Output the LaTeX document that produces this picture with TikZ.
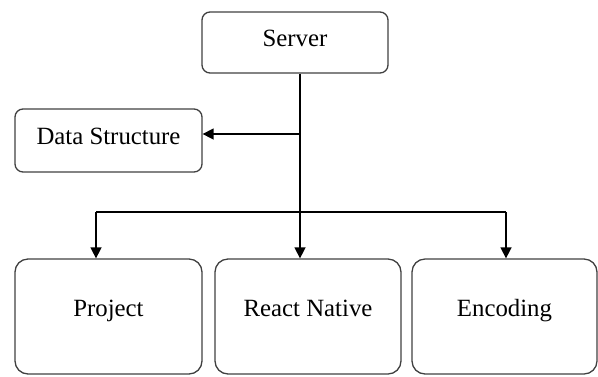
\documentclass[tikz,border=0pt]{standalone}
\usepackage{fontspec}
\setmainfont{Liberation Serif}
\usetikzlibrary{arrows.meta}
\begin{document}
\begin{tikzpicture}[x=0.5pt,y=-0.5pt,
  box/.style={draw=black!75, line width=0.65pt, rounded corners=4pt, inner sep=0pt,
    font=\fontsize{12.4}{14}\selectfont, text height=8.5pt, text depth=5pt},
  bigbox/.style={box, rounded corners=6.5pt, minimum height=57.5pt, text height=9pt, text depth=9pt},
  arr/.style={line width=0.75pt, -{Triangle[length=5.5pt,width=5.5pt]}},
  link/.style={line width=0.75pt}]
\useasboundingbox (0,0) rectangle (598,376);
\node[box, minimum width=93pt, minimum height=30.5pt] (server) at (295,42.5) {Server};
\node[box, minimum width=93.5pt, minimum height=31.5pt] (ds) at (108.5,140.5) {Data Structure};
\node[bigbox, minimum width=93.5pt] (project) at (108.5,316.5) {Project};
\node[bigbox, minimum width=93pt] (react) at (308,316.5) {React Native};
\node[bigbox, minimum width=92.5pt] (enc) at (504.5,316.5) {Encoding};
\coordinate (spine) at (300,73);
\coordinate (mid) at (300,134);
\coordinate (jl) at (96,212);
\coordinate (jr) at (506,212);
\draw[arr] (server.south -| spine) -- (react.north -| spine);
\draw[arr] (mid) -- (mid -| ds.east);
\draw[link] (jl) -- (jr);
\draw[arr] (jl) -- (jl |- project.north);
\draw[arr] (jr) -- (jr |- enc.north);
\end{tikzpicture}
\end{document}
